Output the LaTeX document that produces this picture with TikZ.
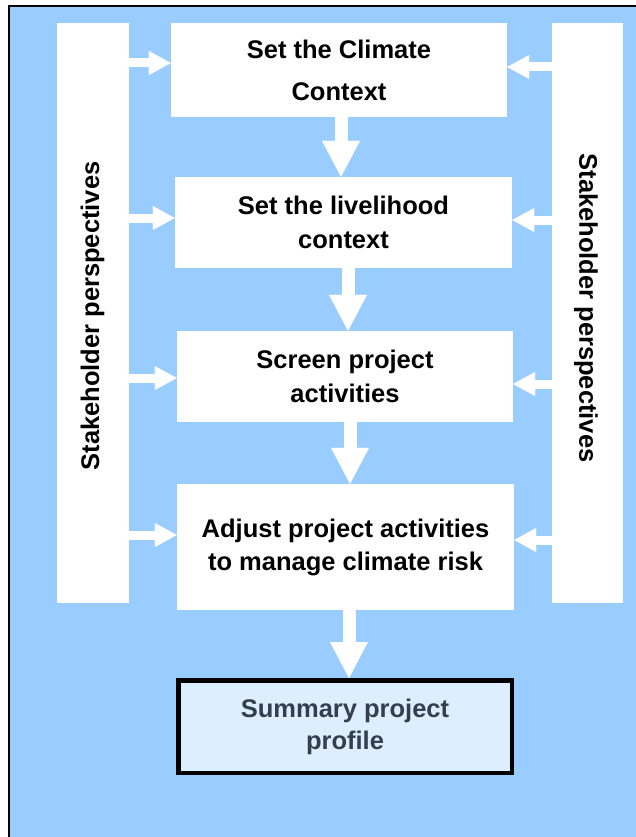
\documentclass[tikz,border=0pt]{standalone}
\usepackage{fontspec}
\setmainfont{Liberation Sans}
\usetikzlibrary{arrows.meta}
\definecolor{bgblue}{HTML}{99CCFF}
\definecolor{sumfill}{HTML}{DDEEFF}
\definecolor{sumtext}{HTML}{333F4F}
\begin{document}
\begin{tikzpicture}[x=1pt,y=-1pt,
  bar/.style={fill=white, draw=none, inner sep=0pt, rectangle},
  box/.style={fill=white, draw=none, inner sep=0pt, rectangle, align=center, text=black},
  vtext/.style={inner sep=0pt, font=\bfseries\fontsize{25.5}{30}\selectfont, text=black},
  harrow/.style={draw=white, line width=9pt, -{Triangle[length=22pt,width=24pt,line width=0.1pt]}},
  varrow/.style={draw=white, line width=13pt, -{Triangle[length=36pt,width=38pt,line width=0.1pt]}},
  sumbox/.style={fill=sumfill, draw=black, line width=4.5pt, inner sep=0pt, rectangle, align=center, text=sumtext}
]
\useasboundingbox (0,0) rectangle (636,837);
\fill[white] (0,0) rectangle (636,837);
\fill[bgblue] (9,6) rectangle (636,837);
\draw[line width=2pt] (9,837) -- (9,6) -- (636,6);

% side bars
\node[bar, minimum width=72pt, minimum height=580pt] (lbar) at (93,313) {};
\node[bar, minimum width=71pt, minimum height=580pt] (rbar) at (587.5,313) {};
\node[vtext, rotate=90] (ltxt) at (92.5,316) {Stakeholder perspectives};
\node[vtext, rotate=-90] (rtxt) at (586,308) {Stakeholder perspectives};

% main boxes
\node[box, minimum width=336pt, minimum height=94pt, font=\bfseries\fontsize{25.5}{42}\selectfont] (b1) at (339,70) {Set the Climate\\Context};
\node[box, minimum width=337pt, minimum height=91pt, font=\bfseries\fontsize{25.5}{34}\selectfont] (b2) at (343.5,222.5) {Set the livelihood\\context};
\node[box, minimum width=336pt, minimum height=91pt, font=\bfseries\fontsize{25.5}{34}\selectfont] (b3) at (345,376.5) {Screen project\\activities};
\node[box, minimum width=337pt, minimum height=126pt, font=\bfseries\fontsize{25.5}{33}\selectfont] (b4) at (345.5,547) {Adjust project activities\\to manage climate risk};
\node[sumbox, minimum width=333.5pt, minimum height=92.5pt, font=\bfseries\fontsize{25.5}{32}\selectfont] (sum) at (345,726.5) {Summary project\\profile};

% left arrows
\draw[harrow] (lbar.east |- 0,63) -- (b1.west |- 0,63);
\draw[harrow] (lbar.east |- 0,218) -- (b2.west |- 0,218);
\draw[harrow] (lbar.east |- 0,378) -- (b3.west |- 0,378);
\draw[harrow] (lbar.east |- 0,535) -- (b4.west |- 0,535);

% right arrows
\draw[harrow] (rbar.west |- 0,67) -- (b1.east |- 0,67);
\draw[harrow] (rbar.west |- 0,220) -- (b2.east |- 0,220);
\draw[harrow] (rbar.west |- 0,384) -- (b3.east |- 0,384);
\draw[harrow] (rbar.west |- 0,540) -- (b4.east |- 0,540);

% down arrows
\draw[varrow] (b1.south -| 341,0) -- (b2.north -| 341,0);
\draw[varrow] (b2.south -| 348,0) -- (b3.north -| 348,0);
\draw[varrow] (b3.south -| 350,0) -- (b4.north -| 350,0);
\draw[varrow] (b4.south -| 349,0) -- (sum.north -| 349,0);
\end{tikzpicture}
\end{document}
